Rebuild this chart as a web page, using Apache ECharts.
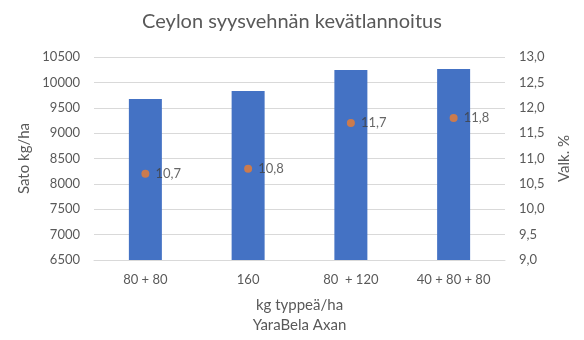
<!DOCTYPE html>
<html>
<head>
<meta charset="utf-8">
<script src="https://cdn.jsdelivr.net/npm/echarts@6/dist/echarts.min.js"></script>
<style>
  html, body { margin: 0; padding: 0; background: #fff; }
  #chart { width: 584px; height: 340px; }
</style>
</head>
<body>
<div id="chart"></div>
<script>
// Ceylon winter wheat: spring nitrogen treatments
const categories = ['80 + 80', '160', '80  + 120', '40 + 80 + 80'];
const yieldKgHa = [9670, 9830, 10245, 10265];
const proteinPct = [10.7, 10.8, 11.7, 11.8];

const FONT = 'Lato, "Open Sans", sans-serif';
const chart = echarts.init(document.getElementById('chart'));

chart.setOption({
  backgroundColor: '#ffffff',
  animation: false,
  textStyle: { fontFamily: FONT },
  title: {
    text: 'Ceylon syysvehnän kevätlannoitus',
    left: 'center',
    top: 7,
    textStyle: { fontFamily: FONT, fontSize: 20, fontWeight: 'normal', color: '#595959' }
  },
  grid: { left: 94, right: 79, top: 57, bottom: 80, containLabel: false, outerBoundsMode: 'none' },
  xAxis: {
    type: 'category',
    data: categories,
    name: 'kg typpeä/ha\nYaraBela Axan',
    nameLocation: 'middle',
    nameGap: 35,
    nameTextStyle: { fontFamily: FONT, fontSize: 15, color: '#595959', lineHeight: 20 },
    axisLine: { lineStyle: { color: '#d9d9d9' } },
    axisTick: { show: false },
    axisLabel: { color: '#595959', fontSize: 13, margin: 13 }
  },
  yAxis: [
    {
      type: 'value',
      min: 6500, max: 10500, interval: 500,
      name: 'Sato kg/ha',
      nameLocation: 'middle',
      nameGap: 58,
      nameTextStyle: { fontFamily: FONT, fontSize: 15, color: '#595959' },
      axisLine: { show: false },
      axisTick: { show: false },
      axisLabel: { color: '#595959', fontSize: 13, margin: 14, formatter: v => String(v) },
      splitLine: { lineStyle: { color: '#d9d9d9' } }
    },
    {
      type: 'value',
      min: 9, max: 13, interval: 0.5,
      name: 'Valk. %',
      nameLocation: 'middle',
      nameGap: 52,
      nameRotate: 90,
      nameTextStyle: { fontFamily: FONT, fontSize: 15, color: '#595959' },
      axisLine: { show: false },
      axisTick: { show: false },
      axisLabel: {
        color: '#595959', fontSize: 13, margin: 14,
        formatter: v => v.toFixed(1).replace('.', ',')
      },
      splitLine: { show: false }
    }
  ],
  series: [
    {
      type: 'bar',
      data: yieldKgHa,
      barWidth: 33,
      itemStyle: { color: '#4472C4' }
    },
    {
      type: 'scatter',
      yAxisIndex: 1,
      data: proteinPct,
      symbolSize: 8,
      itemStyle: { color: '#ED7D31' },
      label: {
        show: true,
        position: 'right',
        distance: 6,
        color: '#404040',
        fontSize: 13,
        formatter: p => p.value.toFixed(1).replace('.', ',')
      }
    }
  ]
});
</script>
</body>
</html>
